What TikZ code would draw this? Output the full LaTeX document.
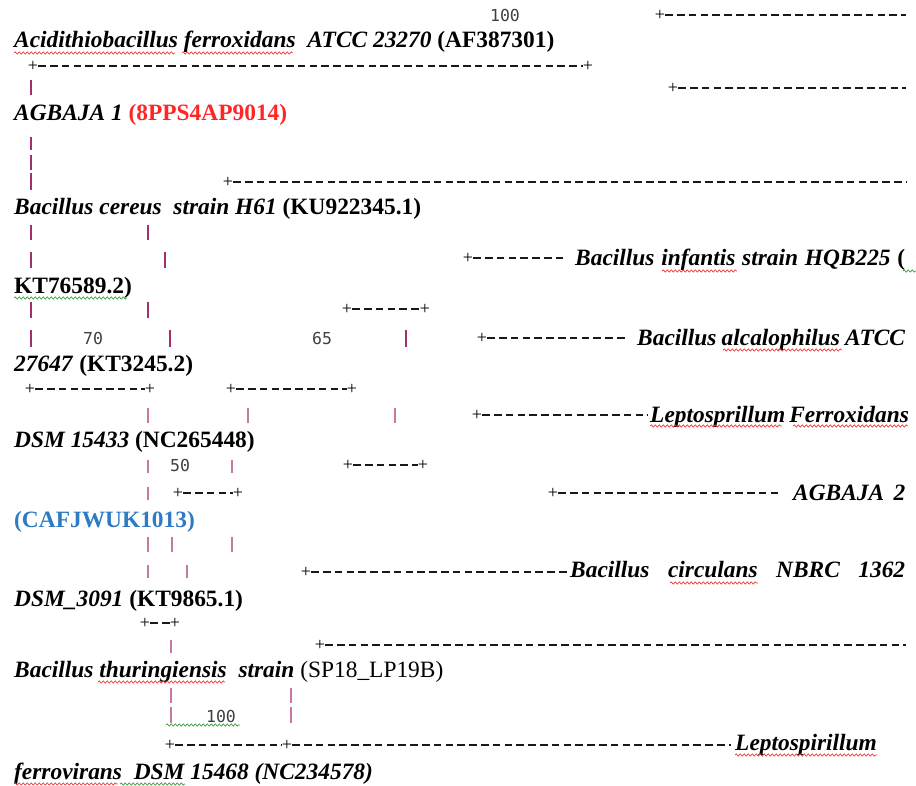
\documentclass[tikz,border=0pt]{standalone}
\usepackage{fontspec}
\setmainfont{Liberation Serif}
\newfontfamily\numfont{DejaVu Sans Mono}
\usepackage{tikz}
\usetikzlibrary{decorations.pathmorphing}
\definecolor{bardark}{HTML}{A0306E}
\definecolor{barlight}{HTML}{C777A3}
\definecolor{accred}{HTML}{FF2626}
\definecolor{accblue}{HTML}{2E7BC4}
\definecolor{wavered}{HTML}{F03C3C}
\definecolor{wavegreen}{HTML}{3CA03C}

\begin{document}
\begin{tikzpicture}[x=1pt,y=-1pt,
    lbl/.style={anchor=base west,inner sep=0pt,font=\bfseries\fontsize{23.4}{26}\selectfont},
    num/.style={inner sep=0pt,text=black!75,font=\numfont\fontsize{16.5}{18}\selectfont},
    pl/.style={inner sep=0pt,text=black,font=\fontsize{18}{18}\selectfont},
    dsh/.style={black!90,line width=1.3pt,dash pattern=on 7.5pt off 4.3pt},
    vbar/.style={line width=1.8pt},
    wavy/.style={line width=0.7pt,decorate,decoration={snake,segment length=4pt,amplitude=1.1pt}}
    ]
    \useasboundingbox (0,0) rectangle (916,786);
    % labels
    \node[lbl] (t1) at (14,48) {\textit{Acidithiobacillus ferroxidans}\ \ \textit{ATCC 23270} (AF387301)};
    \node[lbl] (t2) at (14,121) {\textit{AGBAJA 1} \textcolor{accred}{(8PPS4AP9014)}};
    \node[lbl] (t3) at (14,215) {\textit{Bacillus cereus\ \ strain H61} (KU922345.1)};
    \node[lbl] (t4) at (575,266) {\makebox[330pt][s]{\textit{Bacillus infantis strain HQB225} (}};
    \node[lbl] (t5) at (14,294) {KT76589.2)};
    \node[lbl] (t6) at (637,345) {\makebox[268pt][s]{\textit{Bacillus alcalophilus ATCC}}};
    \node[lbl] (t7) at (14,371) {\textit{27647} (KT3245.2)};
    \node[lbl] (t8) at (650,422) {\makebox[256pt][s]{\textit{Leptosprillum Ferroxidans}}};
    \node[lbl] (t9) at (14,447) {\textit{DSM 15433} (NC265448)};
    \node[lbl] (t10) at (793,500) {\makebox[112pt][s]{\textit{AGBAJA 2}}};
    \node[lbl] (t11) at (14,527) {\textcolor{accblue}{(CAFJWUK1013)}};
    \node[lbl] (t12) at (570,577) {\makebox[335pt][s]{\textit{Bacillus circulans NBRC 1362}}};
    \node[lbl] (t13) at (14,606) {\textit{DSM\_3091} (KT9865.1)};
    \node[lbl] (t14) at (14,677) {\textit{Bacillus thuringiensis\ \ strain} {\mdseries (SP18\_LP19B)}};
    \node[lbl] (t15) at (735,750) {\textit{Leptospirillum}};
    \node[lbl] (t16) at (14,779) {\textit{ferrovirans\ \ DSM 15468 (NC234578)}};
    % support values
    \node[num] (n1) at (505,15) {100};
    \node[num] (n2) at (93,338) {70};
    \node[num] (n3) at (322,338) {65};
    \node[num] (n4) at (180,465) {50};
    \node[num] (n5) at (221,716) {100};
    % branch ends
    \node[pl] (a1) at (660,15) {+};   \coordinate (a2) at (906,15);
    \node[pl] (b1) at (33,66) {+};    \node[pl] (b2) at (588,66) {+};
    \node[pl] (c1) at (673,88) {+};   \coordinate (c2) at (906,88);
    \node[pl] (d1) at (228,182) {+};  \coordinate (d2) at (906,182);
    \node[pl] (e1) at (468,258) {+};  \coordinate (e2) at (566,258);
    \node[pl] (f1) at (347,309) {+};  \node[pl] (f2) at (425,309) {+};
    \node[pl] (g1) at (482,338) {+};  \coordinate (g2) at (628,338);
    \node[pl] (h1) at (30,389) {+};   \node[pl] (h2) at (150,389) {+};
    \node[pl] (h3) at (231,389) {+};  \node[pl] (h4) at (352,389) {+};
    \node[pl] (i1) at (477,415) {+};  \coordinate (i2) at (648,415);
    \node[pl] (j1) at (348,465) {+};  \node[pl] (j2) at (423,465) {+};
    \node[pl] (k1) at (178,493) {+};  \node[pl] (k2) at (238,493) {+};
    \node[pl] (k3) at (553,493) {+};  \coordinate (k4) at (778,493);
    \node[pl] (l1) at (306,572) {+};  \coordinate (l2) at (568,572);
    \node[pl] (m1) at (145,623) {+};  \node[pl] (m2) at (175,623) {+};
    \node[pl] (o1) at (320,645) {+};  \coordinate (o2) at (906,645);
    \node[pl] (q1) at (170,745) {+};  \node[pl] (q2) at (287,745) {+};
    \coordinate (q3) at (731,745);
    \draw[dsh] (a1) -- (a2);
    \draw[dsh] (b1) -- (b2);
    \draw[dsh] (c1) -- (c2);
    \draw[dsh] (d1) -- (d2);
    \draw[dsh] (e1) -- (e2);
    \draw[dsh] (f1) -- (f2);
    \draw[dsh] (g1) -- (g2);
    \draw[dsh] (h1) -- (h2);
    \draw[dsh] (h3) -- (h4);
    \draw[dsh] (i1) -- (i2);
    \draw[dsh] (j1) -- (j2);
    \draw[dsh] (k1) -- (k2);
    \draw[dsh] (k3) -- (k4);
    \draw[dsh] (l1) -- (l2);
    \draw[dsh] (m1) -- (m2);
    \draw[dsh] (o1) -- (o2);
    \draw[dsh] (q1) -- (q2);
    \draw[dsh] (q2) -- (q3);
    % vertical bars
    \foreach \x/\a/\b in {31/80/95,31/137/150,31/155/170,31/173/190,31/225/240,148/225/240,
        31/252/268,165/252/268,31/302/318,148/302/318,31/330/347,170/330/347,406/330/347}
      \draw[vbar,bardark] (\x,\a) -- (\x,\b);
    \foreach \x/\a/\b in {148/408/423,248/408/423,395/408/423,148/460/473,232/460/473,
        148/487/500,148/537/552,172/537/552,232/537/552,148/565/578,187/565/578,
        171/640/653,171/688/703,291/688/703,171/707/723,291/707/723}
      \draw[vbar,barlight] (\x,\a) -- (\x,\b);
    % spell-check marks
    \foreach \a/\b/\y in {14/175/53,182/293/53,662/737/271,723/842/350,650/782/426,
        793/908/426,670/758/583,98/225/682,735/877/755,14/118/784}
      \draw[wavy,wavered] (\a,\y) -- (\b,\y);
    \foreach \a/\b/\y in {14/127/298,903/916/271,166/240/725,120/185/784}
      \draw[wavy,wavegreen] (\a,\y) -- (\b,\y);
\end{tikzpicture}
\end{document}
